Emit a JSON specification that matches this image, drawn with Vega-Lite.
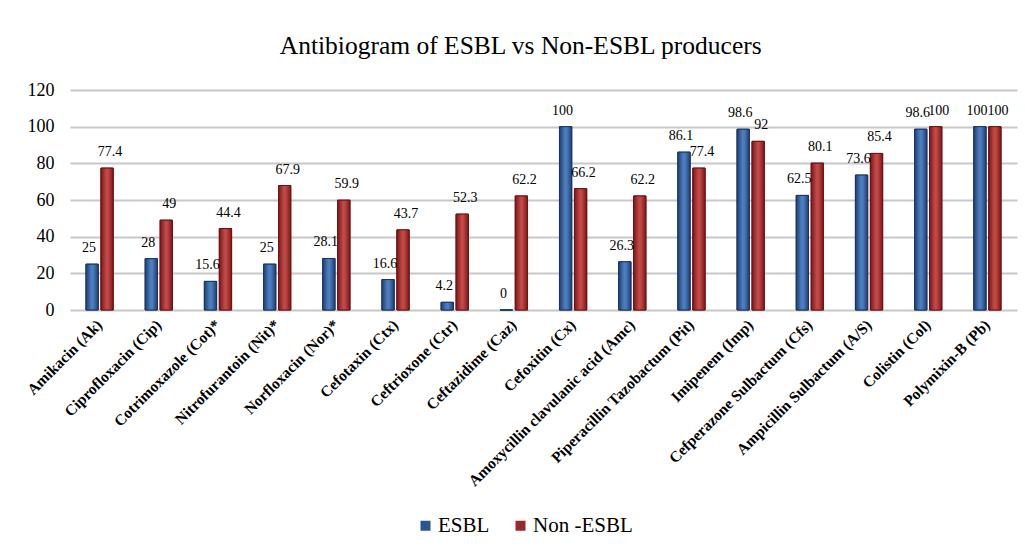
{
  "$schema": "https://vega.github.io/schema/vega-lite/v6.json",
  "width": 947,
  "height": 220,
  "padding": {"left": 24, "top": 33, "right": 9, "bottom": 5},
  "background": "white",
  "title": {
    "text": "Antibiogram of ESBL vs Non-ESBL producers",
    "fontSize": 25.5,
    "fontWeight": "normal",
    "color": "#000000",
    "frame": "bounds",
    "offset": 22
  },
  "data": {
    "values": [
      {"drug": "Amikacin (Ak)", "group": "ESBL", "value": 25},
      {"drug": "Amikacin (Ak)", "group": "Non -ESBL", "value": 77.4},
      {"drug": "Ciprofloxacin (Cip)", "group": "ESBL", "value": 28},
      {"drug": "Ciprofloxacin (Cip)", "group": "Non -ESBL", "value": 49},
      {"drug": "Cotrimoxazole (Cot)*", "group": "ESBL", "value": 15.6},
      {"drug": "Cotrimoxazole (Cot)*", "group": "Non -ESBL", "value": 44.4},
      {"drug": "Nitrofurantoin (Nit)*", "group": "ESBL", "value": 25},
      {"drug": "Nitrofurantoin (Nit)*", "group": "Non -ESBL", "value": 67.9},
      {"drug": "Norfloxacin (Nor)*", "group": "ESBL", "value": 28.1},
      {"drug": "Norfloxacin (Nor)*", "group": "Non -ESBL", "value": 59.9},
      {"drug": "Cefotaxin (Ctx)", "group": "ESBL", "value": 16.6},
      {"drug": "Cefotaxin (Ctx)", "group": "Non -ESBL", "value": 43.7},
      {"drug": "Ceftrioxone (Ctr)", "group": "ESBL", "value": 4.2},
      {"drug": "Ceftrioxone (Ctr)", "group": "Non -ESBL", "value": 52.3},
      {"drug": "Ceftazidime (Caz)", "group": "ESBL", "value": 0},
      {"drug": "Ceftazidime (Caz)", "group": "Non -ESBL", "value": 62.2},
      {"drug": "Cefoxitin (Cx)", "group": "ESBL", "value": 100},
      {"drug": "Cefoxitin (Cx)", "group": "Non -ESBL", "value": 66.2},
      {"drug": "Amoxycillin clavulanic acid (Amc)", "group": "ESBL", "value": 26.3},
      {"drug": "Amoxycillin clavulanic acid (Amc)", "group": "Non -ESBL", "value": 62.2},
      {"drug": "Piperacillin Tazobactum (Pit)", "group": "ESBL", "value": 86.1},
      {"drug": "Piperacillin Tazobactum (Pit)", "group": "Non -ESBL", "value": 77.4},
      {"drug": "Imipenem (Imp)", "group": "ESBL", "value": 98.6},
      {"drug": "Imipenem (Imp)", "group": "Non -ESBL", "value": 92},
      {"drug": "Cefperazone Sulbactum (Cfs)", "group": "ESBL", "value": 62.5},
      {"drug": "Cefperazone Sulbactum (Cfs)", "group": "Non -ESBL", "value": 80.1},
      {"drug": "Ampicillin Sulbactum (A/S)", "group": "ESBL", "value": 73.6},
      {"drug": "Ampicillin Sulbactum (A/S)", "group": "Non -ESBL", "value": 85.4},
      {"drug": "Colistin (Col)", "group": "ESBL", "value": 98.6},
      {"drug": "Colistin (Col)", "group": "Non -ESBL", "value": 100},
      {"drug": "Polymixin-B (Pb)", "group": "ESBL", "value": 100},
      {"drug": "Polymixin-B (Pb)", "group": "Non -ESBL", "value": 100}
    ]
  },
  "encoding": {
    "x": {
      "field": "drug",
      "type": "nominal",
      "sort": null,
      "title": null,
      "scale": {"paddingInner": 0.54, "paddingOuter": 0.27},
      "axis": {
        "labelAngle": -45,
        "labelAlign": "right",
        "labelBaseline": "middle",
        "labelFontWeight": "bold",
        "labelFontSize": 15.5,
        "labelColor": "#000000",
        "labelLimit": 300,
        "labelPadding": 12,
        "ticks": false,
        "domain": false,
        "grid": false
      }
    },
    "xOffset": {"field": "group", "type": "nominal", "sort": ["ESBL", "Non -ESBL"], "scale": {"paddingInner": 0.18}},
    "y": {
      "field": "value",
      "type": "quantitative",
      "title": null,
      "scale": {"domain": [0, 120]},
      "axis": {
        "values": [0, 20, 40, 60, 80, 100, 120],
        "labelFontSize": 18,
        "labelColor": "#000000",
        "labelPadding": 16,
        "ticks": false,
        "domain": false,
        "grid": true,
        "gridColor": "#C8C8C8",
        "gridWidth": 2
      }
    }
  },
  "layer": [
    {
      "mark": {"type": "bar", "strokeWidth": 1},
      "encoding": {
        "color": {
          "field": "group",
          "type": "nominal",
          "title": null,
          "scale": {"domain": ["ESBL", "Non -ESBL"], "range": ["#2B5592", "#98292A"]},
          "legend": {
            "orient": "none",
            "legendX": 345,
            "legendY": 425,
            "direction": "horizontal",
            "symbolType": "square",
            "symbolSize": 100,
            "symbolStrokeWidth": 0,
            "symbolOpacity": 1,
            "labelFontSize": 21,
            "labelColor": "#000000",
            "labelOffset": 2,
            "columnPadding": 20
          }
        },
        "stroke": {
          "field": "group",
          "type": "nominal",
          "scale": {"domain": ["ESBL", "Non -ESBL"], "range": ["#1B3562", "#6E1414"]},
          "legend": null
        }
      }
    },
    {
      "transform": [{"filter": "datum.group === 'ESBL'"}],
      "mark": {
        "type": "bar",
        "stroke": "#1B3562",
        "strokeWidth": 1,
        "fill": {
          "gradient": "linear",
          "x1": 0, "y1": 0, "x2": 1, "y2": 0,
          "stops": [
            {"offset": 0, "color": "#1F3E72"},
            {"offset": 0.45, "color": "#4D7FC0"},
            {"offset": 0.6, "color": "#4A7BBB"},
            {"offset": 1, "color": "#1F3E72"}
          ]
        }
      },
      "encoding": {}
    },
    {
      "transform": [{"filter": "datum.group === 'Non -ESBL'"}],
      "mark": {
        "type": "bar",
        "stroke": "#6E1414",
        "strokeWidth": 1,
        "fill": {
          "gradient": "linear",
          "x1": 0, "y1": 0, "x2": 1, "y2": 0,
          "stops": [
            {"offset": 0, "color": "#7A1718"},
            {"offset": 0.45, "color": "#C24A48"},
            {"offset": 0.6, "color": "#BD4644"},
            {"offset": 1, "color": "#7A1718"}
          ]
        }
      },
      "encoding": {}
    },
    {
      "transform": [{"filter": "datum.group === 'ESBL'"}],
      "mark": {
        "type": "text",
        "baseline": "bottom",
        "dy": -9,
        "dx": -3,
        "fontSize": 14,
        "color": "#000000"
      },
      "encoding": {
        "text": {"field": "value", "type": "quantitative"}
      }
    },
    {
      "transform": [{"filter": "datum.group === 'Non -ESBL'"}],
      "mark": {
        "type": "text",
        "baseline": "bottom",
        "dy": -9,
        "dx": 3,
        "fontSize": 14,
        "color": "#000000"
      },
      "encoding": {
        "text": {"field": "value", "type": "quantitative"}
      }
    }
  ],
  "config": {
    "font": "Liberation Serif",
    "title": {"font": "Liberation Serif"},
    "axis": {"labelFont": "Liberation Serif"},
    "legend": {"labelFont": "Liberation Serif"},
    "text": {"font": "Liberation Serif"},
    "view": {"stroke": null}
  }
}
